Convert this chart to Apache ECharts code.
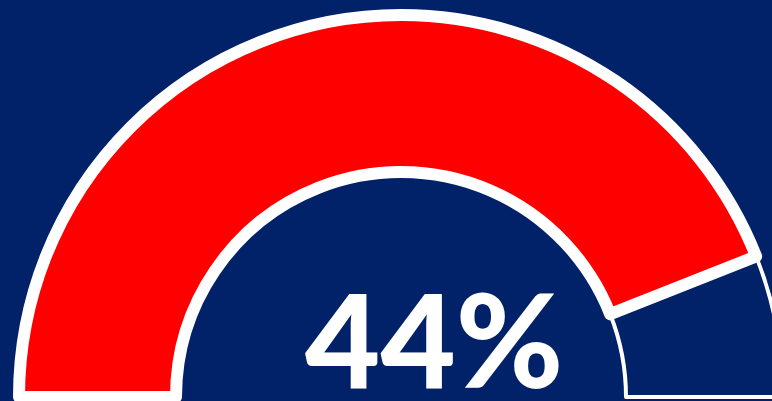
<!DOCTYPE html>
<html>
<head>
<meta charset="utf-8">
<script src="https://cdn.jsdelivr.net/npm/echarts@6/dist/echarts.min.js"></script>
<style>
  html, body { margin: 0; padding: 0; background: #012169; }
  #chart { width: 772px; height: 401px; }
</style>
</head>
<body>
<div id="chart"></div>
<script>
// Half-ring gauge: score slice, remainder of the upper half, hidden lower half
const sliceNames = ['Score', 'Remaining', 'Hidden'];
const sliceValues = [44, 6, 50];
const scoreLabel = sliceValues[0] + '%';

const navy = '#012169';
const red = '#ff0000';

const chart = echarts.init(document.getElementById('chart'), null, { renderer: 'canvas' });

const ringCenter = [401, 397];
const ringRadius = [225, 382];

chart.setOption({
  backgroundColor: navy,
  animation: false,
  series: [
    {
      // background ring pieces (remainder slice with thin outline)
      type: 'pie',
      silent: true,
      center: ringCenter,
      radius: ringRadius,
      startAngle: 180,
      clockwise: true,
      label: { show: false },
      labelLine: { show: false },
      z: 1,
      data: [
        { name: sliceNames[0], value: sliceValues[0], itemStyle: { color: 'rgba(0,0,0,0)', borderWidth: 0 } },
        { name: sliceNames[1], value: sliceValues[1], itemStyle: { color: navy, borderColor: '#ffffff', borderWidth: 4 } },
        { name: sliceNames[2], value: sliceValues[2], itemStyle: { color: 'rgba(0,0,0,0)', borderWidth: 0 } }
      ]
    },
    {
      // score slice drawn above, with thick white outline
      type: 'pie',
      silent: true,
      center: ringCenter,
      radius: ringRadius,
      startAngle: 180,
      clockwise: true,
      label: { show: false },
      labelLine: { show: false },
      z: 2,
      data: [
        { name: sliceNames[0], value: sliceValues[0], itemStyle: { color: red, borderColor: '#ffffff', borderWidth: 12 } },
        { name: 'rest', value: sliceValues[1] + sliceValues[2], itemStyle: { color: 'rgba(0,0,0,0)', borderWidth: 0 } }
      ]
    }
  ],
  graphic: [
    {
      type: 'text',
      left: 305,
      top: 281,
      z: 10,
      style: {
        text: scoreLabel,
        fill: '#ffffff',
        font: '900 130px Lato, sans-serif'
      }
    }
  ]
});
</script>
</body>
</html>
